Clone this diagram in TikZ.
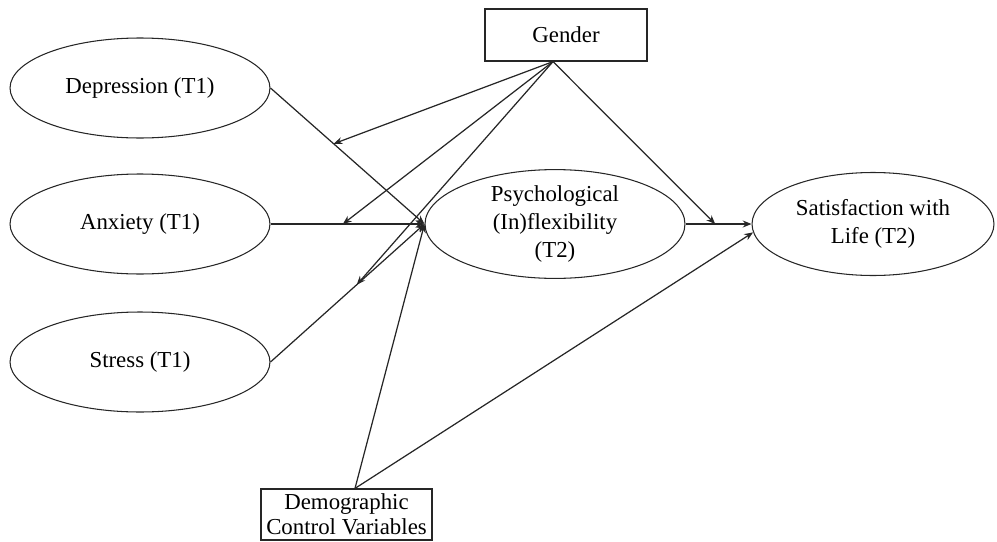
\documentclass[tikz,border=0pt]{standalone}
\usepackage{fontspec}
\setmainfont{Liberation Serif}
\usetikzlibrary{arrows.meta,shapes.geometric}

\tikzset{
  var/.style={ellipse, draw=black!85, line width=0.6pt, inner sep=0pt, align=center,
    font=\fontsize{13}{16}\selectfont},
  caja/.style={rectangle, draw=black!85, line width=0.7pt, inner sep=0pt, align=center,
    font=\fontsize{13}{14.5}\selectfont},
  flecha/.style={line width=0.7pt, draw=black!85},
}

\begin{document}
\begin{tikzpicture}[x=0.02cm, y=-0.02cm, >={Stealth[length=5pt,width=4pt]}]
      \def\anch{5.2cm}
      \def\alt{2cm}

      \useasboundingbox (0,0) rectangle (997,541);

      % Variables T1
      \foreach \n/\t/\y in {dep/Depression (T1)/88, anx/Anxiety (T1)/224, str/Stress (T1)/362} {
        \node[var, minimum width=\anch, minimum height=\alt] (\n) at (140,\y) {\t};
      }

      % Variables T2
      \node[var, minimum width=\anch, minimum height=2.04cm] (psy) at (555,224)
        {Psychological\\(In)flexibility\\(T2)};
      \node[var, minimum width=4.84cm, minimum height=2.06cm] (sat) at (873,224)
        {Satisfaction with\\Life (T2)};

      % Moderador y controles
      \node[caja, minimum width=3.24cm, minimum height=1.04cm] (gen) at (566,35) {Gender};
      \node[caja, minimum width=3.42cm, minimum height=1.02cm] (dem) at (346.5,514.5)
        {Demographic\\Control Variables};
      \coordinate (gs) at ([xshift=-0.26cm]gen.south);
      \coordinate (ds) at ([xshift=0.17cm]dem.north);

      % Efectos directos
      \draw[flecha, ->] (dep.east) -- coordinate[pos=0.41] (mdep) (psy.west);
      \draw[flecha, ->] (anx.east) -- coordinate[pos=0.47] (manx) (psy.west);
      \draw[flecha, ->] (str.east) -- coordinate[pos=0.56] (mstr) (psy.west);
      \draw[flecha, ->] (psy.east) -- coordinate[pos=0.45] (mpsy) (sat.west);

      % Moderación
      \foreach \m in {mdep, manx, mstr, mpsy} {
        \draw[flecha, ->] (gs) -- (\m);
      }

      % Controles
      \draw[flecha, ->] (ds) -- (psy.west);
      \draw[flecha, ->] (ds) -- (sat.184);
    \end{tikzpicture}
\end{document}
